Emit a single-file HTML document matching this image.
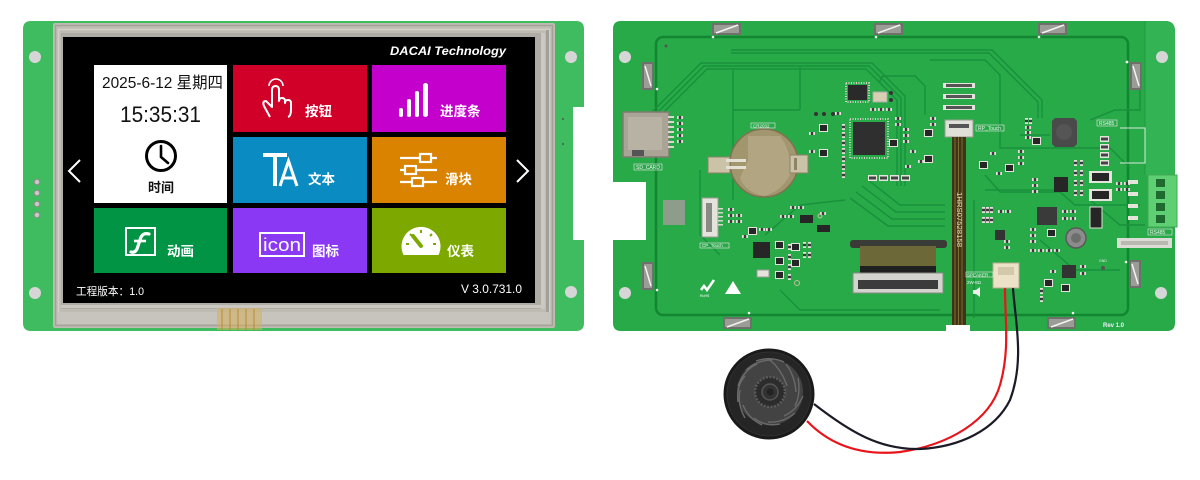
<!DOCTYPE html>
<html><head><meta charset="utf-8"><style>
html,body{margin:0;padding:0;background:#fff;width:1200px;height:480px;overflow:hidden}
svg{display:block}
text{font-family:"Liberation Sans","Noto Sans CJK SC",sans-serif}
</style></head><body>
<svg width="1200" height="480" viewBox="0 0 1200 480" xmlns="http://www.w3.org/2000/svg">
<defs>
<g id="r"><rect width="6" height="3" fill="#e2e2da"/><rect x="1.8" width="2.4" height="3" fill="#3b3b3b"/></g>
<g id="v"><rect width="3" height="6" fill="#e2e2da"/><rect y="1.8" width="3" height="2.4" fill="#3b3b3b"/></g>
<g id="q"><rect x="-1" y="-1" width="9" height="8" fill="#e4e4dc"/><rect width="7" height="6" fill="#262626"/></g>
<g id="ra"><rect width="9" height="6" fill="#e4e4dc"/><rect x="1" y="1.5" width="7" height="3" fill="#444"/></g>
<g id="clipH"><rect width="29" height="12" fill="#6f706b"/><rect x="2" y="2" width="25" height="8" fill="#9c9c96"/><path d="M4,10 L26,2" stroke="#f2f2f2" stroke-width="1.5"/></g>
<g id="clipV"><rect width="12" height="28" fill="#6f706b"/><rect x="2" y="2" width="8" height="24" fill="#9c9c96"/><path d="M3,4 L9,24" stroke="#f2f2f2" stroke-width="1.5"/></g>
</defs>
<rect width="1200" height="480" fill="#fff"/>

<!-- ===== LEFT MODULE ===== -->
<path d="M31,21 H576 Q584,21 584,29 V107 H573 V240 H584 V323 Q584,331 576,331 H31 Q23,331 23,323 V29 Q23,21 31,21 Z" fill="#3fbc5f"/>
<circle cx="35" cy="57" r="6" fill="#d6d6d6"/>
<circle cx="35" cy="293" r="6" fill="#d6d6d6"/>
<circle cx="571" cy="57" r="6" fill="#d6d6d6"/>
<circle cx="571" cy="292" r="6" fill="#d6d6d6"/>
<g fill="#c8c8c8" stroke="#8a8a8a" stroke-width="1">
<circle cx="37" cy="182" r="2.8"/><circle cx="37" cy="193" r="2.8"/><circle cx="37" cy="204" r="2.8"/><circle cx="37" cy="215" r="2.8"/>
</g>
<circle cx="563" cy="119" r="1" fill="#555"/><circle cx="563" cy="144" r="1" fill="#555"/>

<!-- touch frame -->
<rect x="53" y="23" width="502" height="305" rx="2" fill="#bebcb3"/>
<rect x="55.5" y="25.5" width="497" height="300" fill="none" stroke="#a3a199" stroke-width="1.5"/>
<rect x="58.5" y="29.5" width="491" height="292" fill="none" stroke="#d2d0c9" stroke-width="1.5"/>
<rect x="61" y="33" width="480" height="276" fill="#aeaca4"/>
<rect x="541" y="33" width="4" height="276" fill="#cbc9c2"/>
<rect x="546" y="30" width="3" height="283" fill="#a2a098"/>
<rect x="61" y="305" width="484" height="3" fill="#c9c7c0"/>
<rect x="58" y="312" width="492" height="12" fill="#c6c4bd"/>
<!-- flex tail -->
<rect x="217" y="308" width="45" height="22" fill="#d4b060" opacity="0.55"/>
<g stroke="#b88a2a" stroke-width="1.2" opacity="0.8">
<path d="M222,309 V330 M230,309 V330 M238,309 V330 M246,309 V330 M254,309 V330"/>
</g>

<!-- screen -->
<rect x="63" y="37" width="472" height="266" fill="#000"/>
<text x="390" y="55" font-size="11.5" font-weight="bold" font-style="italic" fill="#fff" textLength="116" lengthAdjust="spacingAndGlyphs">DACAI  Technology</text>

<!-- white tile -->
<rect x="94" y="65" width="133" height="138" fill="#fff"/>
<text x="102" y="88" font-size="16" fill="#111" textLength="121" lengthAdjust="spacingAndGlyphs">2025-6-12 星期四</text>
<text x="120" y="122" font-size="22" fill="#111" textLength="81" lengthAdjust="spacingAndGlyphs">15:35:31</text>
<circle cx="161" cy="156" r="14.5" fill="none" stroke="#000" stroke-width="3"/>
<path d="M161,146 V157 L168,163" fill="none" stroke="#000" stroke-width="2.6" stroke-linecap="round"/>
<text x="148" y="192" font-size="13" font-weight="bold" fill="#111">时间</text>

<!-- red -->
<rect x="233" y="65" width="134" height="67" fill="#d10028"/>
<path d="M269,86 A7,7 0 0 1 283,86" fill="none" stroke="#fff" stroke-width="1.6"/>
<path d="M270,117 L264,106 Q262,101 266,101 L272,107 L272,90 Q272,86 275.5,86 Q279,86 279,90 L279,101 Q279,98 282,98 Q285,98 285,101 L285,103 Q285,100 288,100 Q291,100 291,103 L291,110 Q291,116 288,117" fill="none" stroke="#fff" stroke-width="2" stroke-linejoin="round"/>
<text x="305" y="116" font-size="13.5" fill="#fff" font-weight="bold">按钮</text>

<!-- magenta -->
<rect x="372" y="65" width="134" height="67" fill="#c400cc"/>
<g fill="#fff">
<rect x="399" y="108" width="4" height="9" rx="2"/><rect x="407" y="99" width="4" height="18" rx="2"/>
<rect x="415" y="91" width="4" height="26" rx="2"/><rect x="423" y="83" width="5" height="34" rx="2.5"/>
</g>
<text x="440" y="116" font-size="13.5" fill="#fff" font-weight="bold">进度条</text>

<!-- blue -->
<rect x="233" y="137" width="134" height="66" fill="#0a8bc2"/>
<path d="M263,155 H287 M275,155 V186" stroke="#fff" stroke-width="4" fill="none"/>
<path d="M280,186 L288.5,161 L297,186 M283.5,178 H293.5" stroke="#fff" stroke-width="3" fill="none"/>
<text x="308" y="184" font-size="13.5" fill="#fff" font-weight="bold">文本</text>

<!-- orange -->
<rect x="372" y="137" width="134" height="66" fill="#d98300"/>
<g stroke="#fff" stroke-width="2.2" fill="none">
<path d="M400,158 H437 M400,170 H437 M400,182 H437"/>
<rect x="420" y="154" width="11" height="8" fill="#d98300"/>
<rect x="405" y="166" width="11" height="8" fill="#d98300"/>
<rect x="412" y="178" width="11" height="8" fill="#d98300"/>
</g>
<text x="445" y="184" font-size="13.5" fill="#fff" font-weight="bold">滑块</text>

<!-- green -->
<rect x="94" y="208" width="133" height="65" fill="#009444"/>
<rect x="126" y="228" width="29" height="27" fill="none" stroke="#fff" stroke-width="2"/>
<path d="M149,234 Q142,232 140,240 L137,249 Q135,253 131,252" fill="none" stroke="#fff" stroke-width="3.2" stroke-linecap="round"/>
<path d="M134,241 H146" stroke="#fff" stroke-width="2.6"/>
<text x="167" y="256" font-size="13.5" fill="#fff" font-weight="bold">动画</text>

<!-- purple -->
<rect x="233" y="208" width="134" height="65" fill="#8a38f3"/>
<rect x="260" y="233" width="44" height="23" fill="none" stroke="#fff" stroke-width="2"/>
<text x="263" y="251" font-size="18" fill="#fff" textLength="38" lengthAdjust="spacingAndGlyphs">icon</text>
<text x="312" y="256" font-size="13.5" fill="#fff" font-weight="bold">图标</text>

<!-- olive -->
<rect x="372" y="208" width="134" height="65" fill="#7ca800"/>
<path d="M403.5,255 A19.5,19.5 0 1 1 438.5,255 Z" fill="#fff"/>
<g stroke="#7ca800" stroke-width="2">
<path d="M421,230 V233 M410,234 L412,236 M432,234 L430,236 M406,244 H409 M433,244 H436"/>
</g>
<path d="M413,236 L421,246" stroke="#7ca800" stroke-width="4" stroke-linecap="round"/>
<text x="447" y="256" font-size="13.5" fill="#fff" font-weight="bold">仪表</text>

<!-- arrows -->
<path d="M80,160 L69,171 L80,182" fill="none" stroke="#fff" stroke-width="2"/>
<path d="M517,160 L528,171 L517,182" fill="none" stroke="#fff" stroke-width="2"/>
<text x="76" y="295" font-size="11" fill="#fff" textLength="68" lengthAdjust="spacingAndGlyphs">工程版本：1.0</text>
<text x="461" y="293" font-size="11.5" fill="#fff" textLength="61" lengthAdjust="spacingAndGlyphs">V  3.0.731.0</text>

<!-- ===== RIGHT PCB ===== -->
<path d="M621,21 H1165 Q1175,21 1175,31 V323 Q1175,331 1167,331 H970 V325 H946 V331 H621 Q613,331 613,323 V240 H646 V182 H613 V29 Q613,21 621,21 Z" fill="#28aa48"/>
<path d="M1145,21 H1165 Q1175,21 1175,31 V175 H1145 Z" fill="#33b353"/>
<path d="M1145,21 V175" stroke="#229a40" stroke-width="1"/>
<rect x="656" y="37" width="472" height="278" rx="7" fill="none" stroke="#138632" stroke-width="2.5"/>
<circle cx="625" cy="57" r="6" fill="#d6d6d6"/>
<circle cx="1162" cy="57" r="6" fill="#d6d6d6"/>
<circle cx="625" cy="293" r="6" fill="#d6d6d6"/>
<circle cx="1161" cy="293" r="6" fill="#d6d6d6"/>

<!-- traces -->
<g fill="none" stroke="#18903c" stroke-width="1.4">
<path d="M652,112 L701,63 H872 L905,96 V186"/>
<path d="M656,114 L704,66 H869 L901,98 V186"/>
<path d="M660,116 L707,69 H866 L897,100 V186"/>
<path d="M731,50 H992 L1042,100 V118"/>
<path d="M731,53 H989 L1038,102 V118"/>
<path d="M733,70 V200 M800,66 V110 M733,110 H800"/>
<path d="M880,82 Q880,76 886,76 H915 L925,86 V115"/>
<path d="M930,60 H985 L1000,75 V148 H1110 L1130,168"/>
<path d="M868,180 L900,205 H945"/>
<path d="M862,186 L896,212 H945"/>
<path d="M856,192 L892,219 H945"/>
<path d="M850,198 L888,226 H945"/>
<path d="M765,235 L800,205 L845,200"/>
<path d="M985,175 L1000,192 H1060 L1075,205 H1140"/>
<path d="M985,190 H1055 M1040,240 L1075,270 L1120,270"/>
<path d="M974,200 V318 M1090,200 L1120,225 H1145"/>
<path d="M700,170 V235 L720,255 M780,290 L800,310 H940"/>
<path d="M1020,135 H1050 M1090,120 L1115,110 H1140 V85"/>
</g>
<g fill="#f2f2f2">
<circle cx="713" cy="37" r="1.3"/><circle cx="876" cy="37" r="1.3"/><circle cx="1039" cy="37" r="1.3"/>
<circle cx="657" cy="89" r="1.3"/><circle cx="657" cy="290" r="1.3"/><circle cx="1127" cy="62" r="1.4"/><circle cx="1126" cy="262" r="1.3"/>
<circle cx="749" cy="313" r="1.3"/><circle cx="1073" cy="313" r="1.3"/>
</g>
<g fill="#555"><circle cx="666" cy="46" r="1.5"/><circle cx="1103" cy="268" r="2"/></g>

<!-- clips -->
<use href="#clipH" x="712" y="23"/><use href="#clipH" x="874" y="23"/><use href="#clipH" x="1038" y="23"/>
<use href="#clipH" x="723" y="317"/><use href="#clipH" x="1047" y="317"/>
<use href="#clipV" x="642" y="62"/><use href="#clipV" x="642" y="262"/>
<use href="#clipV" x="1130" y="62"/><use href="#clipV" x="1129" y="260"/>

<!-- SD card -->
<rect x="623" y="112" width="46" height="45" fill="#a9a496" stroke="#7f7b70" stroke-width="1.5"/>
<rect x="628" y="117" width="34" height="33" fill="#b7b2a4"/>
<rect x="632" y="150" width="12" height="6" fill="#555"/>
<g fill="#d8d8d0"><rect x="668" y="116" width="6" height="2"/><rect x="668" y="121" width="6" height="2"/><rect x="668" y="126" width="6" height="2"/><rect x="668" y="131" width="6" height="2"/><rect x="668" y="136" width="6" height="2"/><rect x="668" y="141" width="6" height="2"/><rect x="668" y="146" width="6" height="2"/></g>
<use href="#r" x="677" y="116"/><use href="#r" x="677" y="122"/><use href="#r" x="677" y="128"/><use href="#r" x="677" y="134"/><use href="#r" x="677" y="140"/>
<rect x="634" y="164" width="28" height="6" fill="none" stroke="#e8e8e8" stroke-width="0.6"/>
<text x="636" y="169" font-size="5" fill="#f2f2f2">SD_CARD</text>

<!-- coin cell -->
<circle cx="764" cy="163" r="34" fill="#a2966f" stroke="#7d7252" stroke-width="1.5"/>
<path d="M748,136 H780 Q790,150 792,170 Q785,190 764,196 Q745,192 740,178 L748,160 Z" fill="#b1a681"/>
<rect x="708" y="157" width="22" height="16" fill="#cbc3a8" stroke="#8d8366"/>
<rect x="726" y="159" width="20" height="3" fill="#e4e0d4"/><rect x="726" y="166" width="20" height="3" fill="#e4e0d4"/>
<rect x="790" y="155" width="18" height="18" fill="#cbc3a8" stroke="#8d8366"/>
<rect x="794" y="158" width="3" height="12" fill="#8d8366"/>
<rect x="751" y="123" width="24" height="5" fill="none" stroke="#e8e8e8" stroke-width="0.6"/>
<text x="753" y="127.5" font-size="4.5" fill="#f2f2f2">CR2032</text>

<!-- chips top -->
<rect x="846" y="83" width="23" height="19" fill="none" stroke="#d0d0c8" stroke-width="2" stroke-dasharray="1 1.5"/>
<rect x="848" y="85" width="19" height="15" fill="#2a2a2a"/>
<rect x="873" y="92" width="14" height="10" fill="#d8cfb2" stroke="#aaa"/>
<rect x="850" y="119" width="38" height="39" fill="none" stroke="#cfcfc7" stroke-width="2" stroke-dasharray="1 1.5"/>
<rect x="853" y="122" width="32" height="33" fill="#2f2f2f"/>
<g fill="#333"><circle cx="816" cy="114" r="2"/><circle cx="824" cy="114" r="2"/><circle cx="833" cy="114" r="2"/><circle cx="891" cy="93" r="2"/><circle cx="891" cy="100" r="2"/></g>
<use href="#q" x="820" y="125"/><use href="#q" x="820" y="150"/><use href="#q" x="925" y="130"/><use href="#q" x="925" y="156"/><use href="#q" x="890" y="140"/>
<use href="#v" x="842" y="124"/><use href="#v" x="842" y="132"/><use href="#v" x="842" y="140"/><use href="#v" x="842" y="148"/><use href="#v" x="842" y="156"/><use href="#v" x="842" y="164"/><use href="#v" x="842" y="172"/>
<use href="#r" x="809" y="132"/><use href="#r" x="809" y="150"/><use href="#r" x="835" y="112"/>
<use href="#ra" x="868" y="175"/><use href="#ra" x="879" y="175"/><use href="#ra" x="890" y="175"/><use href="#ra" x="901" y="175"/>
<use href="#r" x="870" y="108"/><use href="#r" x="878" y="108"/><use href="#r" x="886" y="108"/><use href="#r" x="895" y="117"/><use href="#r" x="895" y="123"/>
<use href="#r" x="903" y="128"/><use href="#r" x="903" y="134"/><use href="#r" x="903" y="140"/><use href="#r" x="910" y="150"/><use href="#r" x="918" y="160"/>
<use href="#r" x="930" y="117"/><use href="#r" x="930" y="123"/><use href="#r" x="905" y="165"/>
<rect x="943" y="83" width="32" height="5" fill="#e4e4dc"/><rect x="946" y="84" width="26" height="3" fill="#555"/>
<rect x="943" y="94" width="32" height="5" fill="#e4e4dc"/><rect x="946" y="95" width="26" height="3" fill="#555"/>
<rect x="943" y="105" width="32" height="5" fill="#e4e4dc"/><rect x="946" y="106" width="26" height="3" fill="#555"/>

<!-- RP touch connector + ribbon -->
<rect x="945" y="120" width="28" height="17" fill="#e0e0d8" stroke="#9a9a92"/>
<rect x="949" y="124" width="20" height="4" fill="#555"/>
<rect x="952" y="137" width="14" height="188" fill="#3f3418"/>
<g stroke="#8c7a3a" stroke-width="0.8"><path d="M955,137 V325 M958.5,137 V325 M962,137 V325"/></g>
<text transform="translate(957,192) rotate(90)" font-size="7" fill="#e8e0c0" textLength="55" lengthAdjust="spacingAndGlyphs">1HRS07528158</text>
<rect x="976" y="125" width="28" height="6" fill="none" stroke="#e8e8e8" stroke-width="0.6"/>
<text x="978" y="130" font-size="5" fill="#f2f2f2">RP_Touch</text>

<!-- right side parts -->
<path d="M1052,121 L1055,118 H1074 L1077,121 V144 L1074,147 H1055 L1052,144 Z" fill="#4a4a4a"/>
<circle cx="1064" cy="132" r="8" fill="#555"/>
<use href="#v" x="1025" y="118"/><use href="#v" x="1029" y="118"/><use href="#r" x="1025" y="126"/><use href="#r" x="1025" y="131"/><use href="#r" x="1025" y="136"/><use href="#q" x="1033" y="138"/>
<rect x="1097" y="120" width="20" height="6" fill="none" stroke="#e8e8e8" stroke-width="0.6"/>
<text x="1099" y="125" font-size="5" fill="#f2f2f2">RS485</text>
<path d="M1120,128 H1145 V163 H1120" fill="none" stroke="#d8e8d8" stroke-width="1"/>
<use href="#ra" x="1100" y="136"/><use href="#ra" x="1100" y="144"/><use href="#ra" x="1100" y="152"/><use href="#ra" x="1100" y="160"/>
<use href="#q" x="980" y="162"/><use href="#q" x="1006" y="165"/><use href="#r" x="990" y="152"/><use href="#r" x="1018" y="150"/><use href="#r" x="1018" y="156"/><use href="#r" x="1018" y="162"/><use href="#r" x="996" y="172"/>
<rect x="1054" y="177" width="14" height="15" fill="#262626"/>
<use href="#r" x="1032" y="178"/><use href="#r" x="1032" y="184"/><use href="#r" x="1032" y="190"/>
<use href="#v" x="1074" y="160"/><use href="#v" x="1080" y="160"/><use href="#v" x="1074" y="170"/><use href="#v" x="1080" y="170"/><use href="#v" x="1074" y="180"/><use href="#v" x="1080" y="180"/><use href="#v" x="1074" y="190"/><use href="#v" x="1080" y="190"/>
<rect x="1089" y="171" width="23" height="12" fill="#e4e4dc"/><rect x="1092" y="173" width="17" height="8" fill="#262626"/>
<rect x="1089" y="189" width="23" height="12" fill="#e4e4dc"/><rect x="1092" y="191" width="17" height="8" fill="#262626"/>
<use href="#r" x="1116" y="182"/><use href="#r" x="1124" y="182"/><use href="#r" x="1116" y="188"/><use href="#r" x="1124" y="188"/>
<rect x="1037" y="207" width="20" height="18" fill="#3a3a3a"/>
<rect x="1090" y="207" width="12" height="21" fill="#262626" stroke="#e0e0d8"/>
<circle cx="1076" cy="238" r="10" fill="#8c8c8c" stroke="#5a5a5a" stroke-width="1.5"/>
<circle cx="1076" cy="238" r="5" fill="#6e6e6e"/>
<use href="#q" x="1048" y="230"/><use href="#r" x="1030" y="228"/><use href="#r" x="1030" y="234"/><use href="#r" x="1030" y="240"/>
<use href="#r" x="1030" y="249"/><use href="#r" x="1038" y="249"/><use href="#r" x="1046" y="249"/><use href="#r" x="1054" y="249"/>
<use href="#r" x="1062" y="210"/><use href="#r" x="1070" y="210"/><use href="#r" x="1062" y="217"/><use href="#r" x="1070" y="217"/>
<rect x="995" y="230" width="10" height="10" fill="#333"/>
<use href="#v" x="982" y="207"/><use href="#v" x="986" y="207"/><use href="#v" x="990" y="207"/><use href="#v" x="982" y="217"/><use href="#v" x="986" y="217"/><use href="#v" x="990" y="217"/>
<use href="#r" x="998" y="210"/><use href="#r" x="1005" y="210"/><use href="#r" x="1004" y="240"/><use href="#r" x="1004" y="246"/>
<rect x="1062" y="265" width="14" height="13" fill="#333"/>
<use href="#q" x="1045" y="280"/><use href="#q" x="1062" y="285"/><use href="#v" x="1040" y="288"/><use href="#v" x="1040" y="296"/><use href="#r" x="1050" y="270"/><use href="#r" x="1080" y="265"/><use href="#r" x="1080" y="272"/>
<!-- terminal block -->
<rect x="1148" y="175" width="29" height="52" fill="#5fcf73" stroke="#3fa853"/>
<g fill="#1f6a2e"><rect x="1156" y="179" width="9" height="8"/><rect x="1156" y="191" width="9" height="8"/><rect x="1156" y="203" width="9" height="8"/><rect x="1156" y="215" width="9" height="8"/></g>
<g fill="#e4e4dc"><rect x="1128" y="180" width="10" height="4"/><rect x="1128" y="192" width="10" height="4"/><rect x="1128" y="204" width="10" height="4"/><rect x="1128" y="216" width="10" height="4"/></g>
<rect x="1148" y="229" width="24" height="6" fill="none" stroke="#e8e8e8" stroke-width="0.6"/>
<text x="1150" y="234" font-size="5" fill="#f2f2f2">RS485</text>
<rect x="1117" y="238" width="55" height="10" fill="#dcdcd6"/>
<rect x="1121" y="241" width="47" height="4" fill="#b9b9b2"/>

<!-- speaker connector -->
<rect x="993" y="263" width="26" height="25" fill="#ece2c8" stroke="#b8ac90"/>
<rect x="998" y="267" width="16" height="8" fill="#d4c8aa"/>
<rect x="966" y="272" width="27" height="5" fill="none" stroke="#e8e8e8" stroke-width="0.6"/>
<text x="967" y="276.3" font-size="4.5" fill="#f2f2f2">SPEAKER</text>
<text x="967" y="284" font-size="4.5" fill="#f2f2f2">2W-8Ω</text>
<path d="M973,290 H976 L980,287 V297 L976,294 H973 Z" fill="#eee"/>
<text x="1103" y="327" font-size="6" fill="#eef" font-weight="bold">Rev 1.0</text>
<text x="1099" y="262" font-size="3.5" fill="#eee">GND</text>

<!-- bottom center FFC connector -->
<rect x="850" y="240" width="97" height="8" rx="3" fill="#3a3a36"/>
<rect x="860" y="246" width="76" height="22" fill="#6d6838"/>
<rect x="860" y="266" width="76" height="8" fill="#202020"/>
<rect x="853" y="273" width="90" height="20" fill="#d4d4ce" stroke="#8a8a84"/>
<rect x="858" y="280" width="80" height="9" fill="#3c3c3c"/>

<!-- bottom left parts -->
<rect x="663" y="200" width="22" height="25" fill="#8e9c8c"/>
<rect x="702" y="198" width="16" height="39" fill="#e4e4dc" stroke="#9a9a92"/>
<rect x="706" y="203" width="6" height="29" fill="#8a8a84"/>
<g fill="#d8d8d0"><rect x="718" y="208" width="5" height="1.5"/><rect x="718" y="212" width="5" height="1.5"/><rect x="718" y="216" width="5" height="1.5"/><rect x="718" y="220" width="5" height="1.5"/><rect x="718" y="224" width="5" height="1.5"/></g>
<rect x="700" y="243" width="29" height="5" fill="none" stroke="#e8e8e8" stroke-width="0.6"/>
<text x="702" y="247" font-size="4.5" fill="#f2f2f2">CP_Touch</text>
<use href="#r" x="728" y="208"/><use href="#r" x="728" y="214"/><use href="#r" x="728" y="220"/><use href="#r" x="736" y="214"/><use href="#r" x="736" y="220"/>
<use href="#q" x="749" y="228"/><use href="#r" x="759" y="228"/><use href="#r" x="766" y="228"/><use href="#r" x="742" y="235"/>
<rect x="753" y="242" width="17" height="16" fill="#262626"/>
<rect x="757" y="270" width="12" height="7" fill="#e4e4dc" stroke="#999"/>
<use href="#q" x="776" y="242"/><use href="#q" x="776" y="258"/><use href="#q" x="776" y="272"/><use href="#v" x="788" y="244"/><use href="#v" x="788" y="254"/><use href="#v" x="788" y="264"/><use href="#v" x="788" y="274"/>
<use href="#q" x="792" y="244"/><use href="#q" x="792" y="260"/><use href="#v" x="803" y="242"/><use href="#v" x="803" y="252"/><use href="#v" x="808" y="242"/><use href="#v" x="808" y="252"/>
<rect x="800" y="215" width="13" height="8" fill="#262626"/><rect x="817" y="225" width="13" height="7" fill="#262626"/>
<use href="#r" x="780" y="215"/><use href="#r" x="788" y="215"/><use href="#r" x="790" y="206"/><use href="#r" x="798" y="206"/><use href="#r" x="820" y="212"/>
<circle cx="797" cy="283" r="2.5" fill="none" stroke="#c8c0a0" stroke-width="1"/><circle cx="820" cy="216" r="2" fill="none" stroke="#c8c0a0"/>
<path d="M701,290 L704,286 L707,290 L714,280" fill="none" stroke="#fff" stroke-width="2.5"/>
<text x="700" y="297" font-size="3.5" fill="#fff">RoHS</text>
<path d="M725,294 L733,281 L741,294 Z" fill="#fff"/>

<!-- ===== SPEAKER + WIRES ===== -->
<path d="M1005,288 C1005,320 1010,350 1000,385 C990,420 950,445 900,452 C860,456 830,445 807,421" fill="none" stroke="#e8151b" stroke-width="2.2"/>
<path d="M1013,288 C1015,320 1025,360 1010,400 C995,430 960,447 920,449 C880,450 850,432 814,404" fill="none" stroke="#1b1b28" stroke-width="2.2"/>
<circle cx="769" cy="394" r="45.5" fill="#1a1a1a"/>
<circle cx="769" cy="394" r="42" fill="#252525" stroke="#303030" stroke-width="1"/>
<circle cx="770" cy="392" r="33" fill="#434343"/>
<g stroke="#6a6a6a" stroke-width="1.4" fill="none">
<path d="M770,360 Q782,370 787,386"/>
<path d="M786,364 Q795,376 796,392"/>
<path d="M798,378 Q801,394 795,406"/>
<path d="M803,396 Q797,410 784,416"/>
<path d="M795,413 Q783,423 768,422"/>
<path d="M780,424 Q765,427 754,418"/>
<path d="M762,425 Q748,418 743,405"/>
<path d="M745,418 Q737,404 740,390"/>
<path d="M738,402 Q736,386 745,376"/>
<path d="M738,386 Q744,370 757,364"/>
<path d="M746,370 Q757,360 772,360"/>
<path d="M756,361 Q770,356 784,362"/>
</g>
<circle cx="770" cy="392" r="15" fill="#2c2c2c" stroke="#5a5a5a" stroke-width="2.5" stroke-dasharray="2 1.5"/>
<circle cx="770" cy="392" r="8" fill="#333" stroke="#555" stroke-width="1.5"/>
<circle cx="770" cy="392" r="3.5" fill="#222"/>
</svg>
</body></html>
